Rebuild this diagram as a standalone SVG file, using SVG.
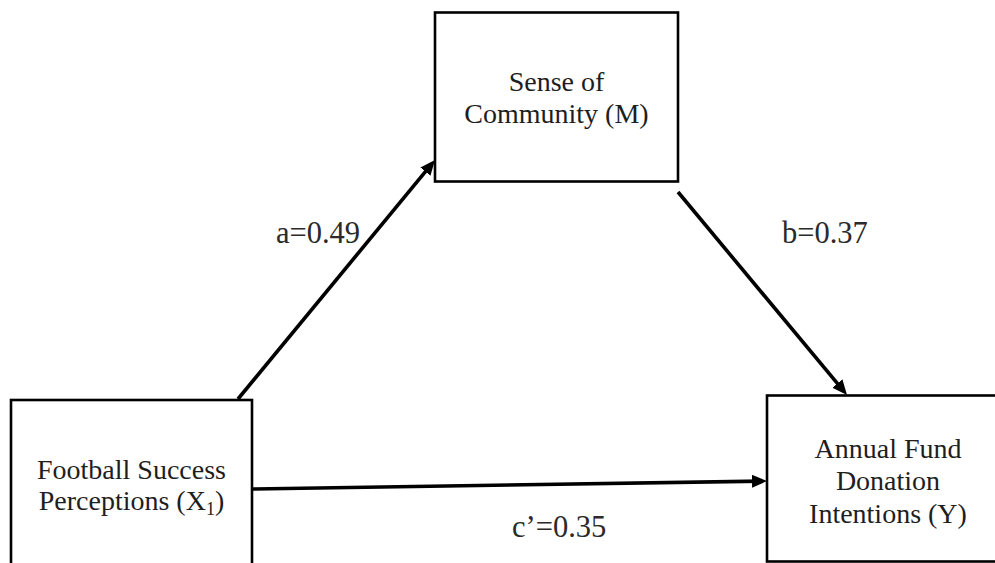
<svg xmlns="http://www.w3.org/2000/svg" width="995" height="563" viewBox="0 0 995 563">
  <style>
    .box { fill: #ffffff; stroke: #000000; stroke-width: 2.6; }
    .txt { font-family: "Liberation Serif", "Times New Roman", serif; font-size: 28px; fill: #1e1e1e; text-anchor: middle; }
    .lbl { font-family: "Liberation Serif", "Times New Roman", serif; font-size: 30.5px; fill: #2a2a2a; }
    .edge { stroke: #000000; stroke-width: 3.6; fill: none; marker-end: url(#arrow); }
  </style>
  <defs>
    <marker id="arrow" markerUnits="userSpaceOnUse" markerWidth="16" markerHeight="14" refX="10" refY="6.5" orient="auto">
      <path d="M0,0 L15,6.5 L0,13 z" fill="#000000"/>
    </marker>
  </defs>
  <rect width="995" height="563" fill="#ffffff"/>

  <g id="connectors">
    <line class="edge" x1="238" y1="399" x2="431.8" y2="163.9"/>
    <line class="edge" x1="678" y1="192" x2="843.8" y2="391.2"/>
    <line class="edge" x1="253" y1="489" x2="762" y2="481.1"/>
    <text class="lbl" x="276" y="243">a=0.49</text>
    <text class="lbl" x="782" y="243">b=0.37</text>
    <text class="lbl" x="512" y="537">c’=0.35</text>
  </g>

  <g id="node-m">
    <rect class="box" x="435" y="12.5" width="243" height="169"/>
    <text class="txt" x="556.5" y="91">Sense of</text>
    <text class="txt" x="556.5" y="123">Community (M)</text>
  </g>

  <g id="node-x">
    <rect class="box" x="11" y="400" width="241" height="180"/>
    <text class="txt" x="131.5" y="479">Football Success</text>
    <text class="txt" x="131.5" y="510">Perceptions (X<tspan font-size="18" dy="5">1</tspan><tspan dy="-5">)</tspan></text>
  </g>

  <g id="node-y">
    <rect class="box" x="767" y="395.5" width="243" height="166"/>
    <text class="txt" x="888" y="458">Annual Fund</text>
    <text class="txt" x="888" y="490">Donation</text>
    <text class="txt" x="888" y="522.5">Intentions (Y)</text>
  </g>
</svg>
